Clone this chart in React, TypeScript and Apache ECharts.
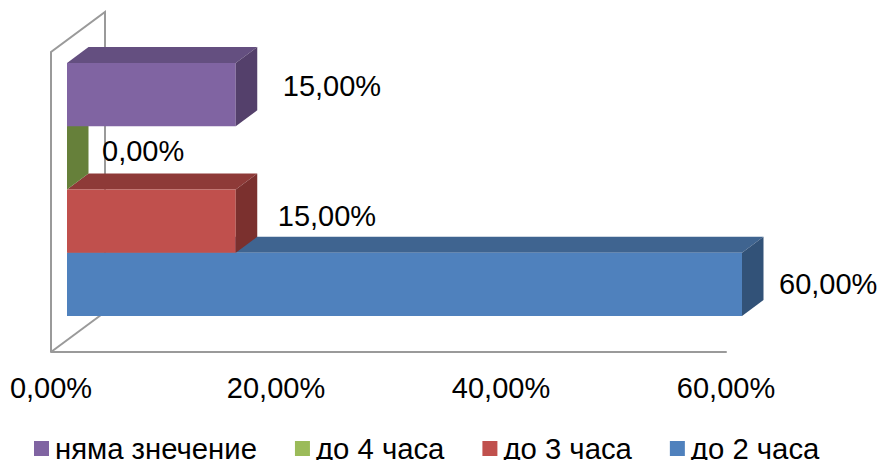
import React, { useEffect, useRef } from "react";
import * as echarts from "echarts";

const seriesNames = ["до 2 часа", "до 3 часа", "до 4 часа", "няма знечение"];
const seriesValues = [60, 15, 0, 15];
const legendOrder = ["няма знечение", "до 4 часа", "до 3 часа", "до 2 часа"];
const frontColors = ["#4f81bd", "#c0504d", "#9bbb59", "#8064a2"];
const topColors = ["#3f6490", "#8e3a38", "#7a9446", "#644f80"];
const sideColors = ["#325278", "#7b302e", "#66803a", "#54406b"];
const axisTicks = { min: 0, max: 60, interval: 20 };

const DEPTH_X = 21.5;
const DEPTH_Y = -16;
const labelOffsets = [[37, 0], [42, -5], [35, -7], [47, -9]];
const FONT = "'Liberation Sans', Arial, sans-serif";
const fmt = (v: number) => v.toFixed(2).replace(".", ",") + "%";
const WALL = "#9a9a9a";

export default function App() {
  const ref = useRef<HTMLDivElement>(null);
  useEffect(() => {
    document.body.style.margin = "0";
    const chart = echarts.init(ref.current!, null, { renderer: "svg" });
    const series = seriesNames.map((name, i) => ({
      type: "custom",
      name,
      xAxisIndex: 1,
      yAxisIndex: 1,
      clip: false,
      itemStyle: { color: frontColors[i] },
      encode: { x: 0, y: 1 },
      data: [[seriesValues[i], i]],
      renderItem: (_p: any, api: any) => {
        const v = api.value(0);
        const c = api.value(1);
        const [x1, yc] = api.coord([v, c]);
        const [x0] = api.coord([0, c]);
        const h = api.size([0, 1])[1];
        const y0 = yc - h / 2;
        const y1 = yc + h / 2;
        const dx = DEPTH_X;
        const dy = DEPTH_Y;
        const children: any[] = [];
        if (x1 > x0) {
          children.push({
            type: "polygon",
            shape: { points: [[x0, y0], [x0 + dx, y0 + dy], [x1 + dx, y0 + dy], [x1, y0]] },
            style: { fill: topColors[i] },
          });
          children.push({
            type: "rect",
            shape: { x: x0, y: y0, width: x1 - x0, height: h },
            style: { fill: frontColors[i] },
          });
        }
        children.push({
          type: "polygon",
          shape: { points: [[x1, y0], [x1 + dx, y0 + dy], [x1 + dx, y1 + dy], [x1, y1]] },
          style: { fill: sideColors[i] },
        });
        children.push({
          type: "text",
          style: {
            x: x1 + labelOffsets[i][0],
            y: yc + labelOffsets[i][1],
            text: fmt(v),
            fill: "#000",
            font: `29px ${FONT}`,
            textAlign: "left",
            textVerticalAlign: "middle",
          },
        });
        return { type: "group", children };
      },
    }));
    chart.setOption({
      animation: false,
      backgroundColor: "#fff",
      grid: [
        { left: 51, right: 157, top: 52, bottom: 108 },
        { left: 67, right: 141, top: 63, bottom: 144 },
      ],
      xAxis: [
        {
          gridIndex: 0,
          type: "value",
          ...axisTicks,
          axisLine: { show: true, lineStyle: { color: WALL, width: 2 } },
          axisTick: { show: false },
          splitLine: { show: false },
          axisLabel: {
            color: "#000",
            fontFamily: FONT,
            fontSize: 29,
            margin: 21,
            formatter: fmt,
          },
        },
        { gridIndex: 1, type: "value", show: false, ...axisTicks, splitLine: { show: false } },
      ],
      yAxis: [
        { gridIndex: 0, type: "category", show: false, data: seriesNames },
        { gridIndex: 1, type: "category", show: false, data: seriesNames },
      ],
      legend: {
        data: legendOrder.map((name) => ({ name, icon: "rect" })),
        left: 34,
        top: 434,
        padding: 0,
        itemWidth: 15,
        itemHeight: 15,
        itemGap: 38,
        textStyle: { color: "#000", fontFamily: FONT, fontSize: 29.3, padding: [0, 0, 0, 1] },
      },
      graphic: [
        {
          type: "polyline",
          z: 0,
          shape: { points: [[51, 352], [51, 52], [105, 12], [105, 316]] },
          style: { stroke: WALL, lineWidth: 2, fill: "none" },
        },
        {
          type: "line",
          z: 0,
          shape: { x1: 51, y1: 352, x2: 105, y2: 312 },
          style: { stroke: WALL, lineWidth: 2 },
        },
      ],
      series,
    });
    return () => chart.dispose();
  }, []);
  return <div ref={ref} style={{ width: 883, height: 460, position: "absolute", left: 0, top: 0 }} />;
}
